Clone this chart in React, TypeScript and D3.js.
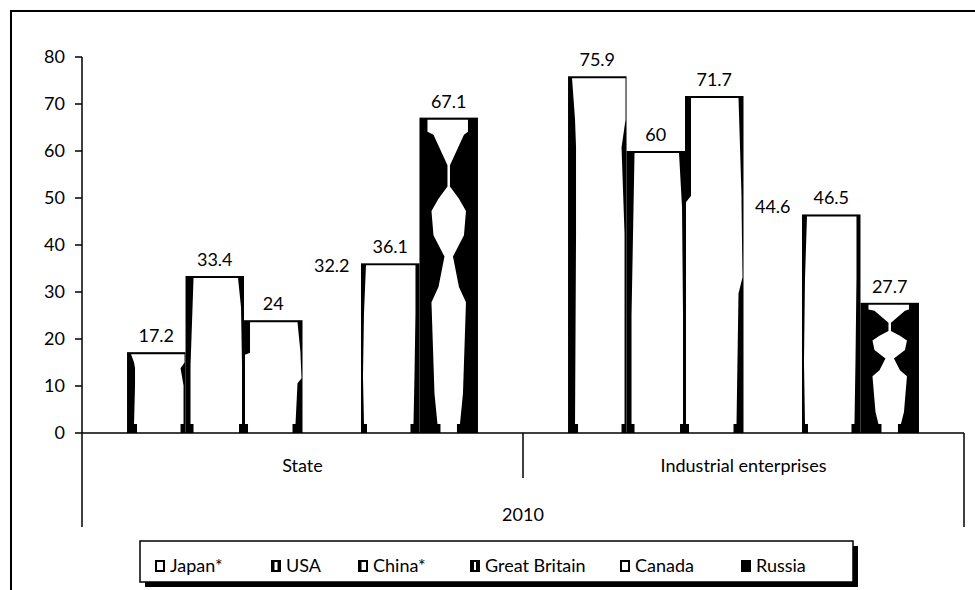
import React, { useEffect, useRef } from 'react';
import * as d3 from 'd3';

const categories = ['State', 'Industrial enterprises'];
const series = ['Japan*', 'USA', 'China*', 'Great Britain', 'Canada', 'Russia'];
const stateValues = [17.2, 33.4, 24, 32.2, 36.1, 67.1];
const industrialValues = [75.9, 60, 71.7, 44.6, 46.5, 27.7];
const yTicks = [0, 10, 20, 30, 40, 50, 60, 70, 80];
const yearLabel = '2010';

// black/white "gradient" look of each series: [t from top, left black, right black]
const profiles: Record<string, number[][]> = {
  'Japan*': [[0, 4, 1], [0.12, 7, 1], [0.2, 8, 5], [0.45, 8, 2], [1, 7, 2]],
  USA: [[0, 8, 6], [0.2, 7, 3], [0.6, 5, 2], [1, 5, 2]],
  'China*': [[0, 6, 5], [0.3, 6, 2], [0.32, 1, 2], [0.55, 1, 1], [0.6, 1, 5], [1, 1, 7]],
  'Great Britain': [],
  Canada: [[0, 5, 4], [0.3, 3, 4], [0.7, 2, 5], [1, 3, 6]],
  Russia: [
    [0, 8, 10], [0.04, 8, 10], [0.05, 14, 14], [0.1, 21, 21], [0.15, 28, 28], [0.22, 28, 28],
    [0.26, 19, 19], [0.3, 12, 12], [0.38, 14, 14], [0.45, 25, 25], [0.55, 19, 19],
    [0.6, 12, 12], [0.9, 15, 15], [1, 18, 18],
  ],
};

const FONT = 'Lato, "Liberation Sans", sans-serif';

const App: React.FC = () => {
  const svgRef = useRef<SVGSVGElement>(null);

  useEffect(() => {
    if (!svgRef.current) return;
    const svg = d3.select(svgRef.current);
    svg.selectAll('*').remove();

    const left = 82;
    const right = 964;
    const y = d3.scaleLinear().domain([0, 80]).range([433, 57]);
    const x0 = d3.scaleBand<string>().domain(categories).range([left, right]);
    const x1 = d3.scaleBand<string>().domain(series).range([0, x0.bandwidth()]).paddingOuter(0.77);
    const base = y(0);

    // outer frame
    svg.append('rect').attr('x', 11).attr('y', 11).attr('width', 1100).attr('height', 1000)
      .attr('fill', 'white').attr('stroke', '#000').attr('stroke-width', 2);

    // y axis
    svg.append('line').attr('x1', left).attr('x2', left).attr('y1', y(80)).attr('y2', 527)
      .attr('stroke', '#000').attr('stroke-width', 1.5);
    yTicks.forEach(t => {
      svg.append('line').attr('x1', left - 7).attr('x2', left).attr('y1', y(t)).attr('y2', y(t))
        .attr('stroke', '#000').attr('stroke-width', 1.5);
      svg.append('text').attr('x', left - 17).attr('y', y(t)).attr('dy', '0.35em')
        .attr('text-anchor', 'end').attr('font-family', FONT).attr('font-size', 18).text(t);
    });

    const rows = [stateValues, industrialValues];
    categories.forEach((cat, ci) => {
      const gx = x0(cat)!;
      series.forEach((s, si) => {
        const v = rows[ci][si];
        const bx = gx + x1(s)!;
        const w = x1.bandwidth();
        const top = y(v);
        const h = base - top;
        const prof = profiles[s];
        if (prof.length) {
          svg.append('rect').attr('x', bx).attr('y', top).attr('width', w).attr('height', h).attr('fill', '#000');
          const foot = Math.min(9, h * 0.2);
          const extra = 3;
          const inner = base - foot - (top + 2);
          const lp = prof.map(p => [bx + p[1], top + 2 + p[0] * inner]);
          const lastL = prof[prof.length - 1][1];
          const lastR = prof[prof.length - 1][2];
          lp.push([bx + lastL + extra, base - foot], [bx + lastL + extra, base]);
          const rp = prof.map(p => [bx + w - p[2], top + 2 + p[0] * inner]).reverse();
          rp.unshift([bx + w - lastR - extra, base], [bx + w - lastR - extra, base - foot]);
          svg.append('path').attr('d', d3.line()([...lp, ...rp]) + 'Z').attr('fill', '#fff');
        }
        svg.append('text').attr('x', bx + w / 2).attr('y', top - 10)
          .attr('text-anchor', 'middle').attr('font-family', FONT).attr('font-size', 18).text(v);
      });
      svg.append('text').attr('x', gx + x0.bandwidth() / 2).attr('y', 466).attr('dy', '0.35em')
        .attr('text-anchor', 'middle').attr('font-family', FONT).attr('font-size', 18).text(cat);
    });

    // category axis
    svg.append('line').attr('x1', left).attr('x2', right).attr('y1', base).attr('y2', base)
      .attr('stroke', '#000').attr('stroke-width', 1.5);
    svg.append('line').attr('x1', x0(categories[1])!).attr('x2', x0(categories[1])!).attr('y1', base).attr('y2', 478)
      .attr('stroke', '#000').attr('stroke-width', 1.5);
    svg.append('line').attr('x1', right).attr('x2', right).attr('y1', base).attr('y2', 527)
      .attr('stroke', '#000').attr('stroke-width', 1.5);
    svg.append('text').attr('x', (left + right) / 2).attr('y', 515).attr('dy', '0.35em')
      .attr('text-anchor', 'middle').attr('font-family', FONT).attr('font-size', 18).text(yearLabel);

    // legend
    const lg = svg.append('g');
    lg.append('rect').attr('x', 145).attr('y', 546).attr('width', 713).attr('height', 41).attr('fill', '#000');
    lg.append('rect').attr('x', 140).attr('y', 541).attr('width', 713).attr('height', 41)
      .attr('fill', '#fff').attr('stroke', '#000').attr('stroke-width', 1.5);
    const textX = [170, 286, 373, 485, 635, 756];
    const insets: Record<string, number[]> = {
      'Japan*': [2, 2], USA: [3.5, 3.5], 'China*': [3.5, 2], 'Great Britain': [4, 4], Canada: [2, 2],
    };
    series.forEach((s, i) => {
      const sx = textX[i] - 15;
      const sy = 560;
      lg.append('rect').attr('x', sx).attr('y', sy).attr('width', 10).attr('height', 12).attr('fill', '#000');
      if (insets[s]) {
        lg.append('rect').attr('x', sx + insets[s][0]).attr('y', sy + 2)
          .attr('width', 10 - insets[s][0] - insets[s][1]).attr('height', 8).attr('fill', '#fff');
      }
      lg.append('text').attr('x', textX[i]).attr('y', 566).attr('dy', '0.35em')
        .attr('font-family', FONT).attr('font-size', 18).text(s);
    });
  }, []);

  return (
    <div style={{ position: 'absolute', left: 0, top: 0, width: 975, height: 590, overflow: 'hidden' }}>
      <svg ref={svgRef} width={975} height={590} />
    </div>
  );
};

export default App;
